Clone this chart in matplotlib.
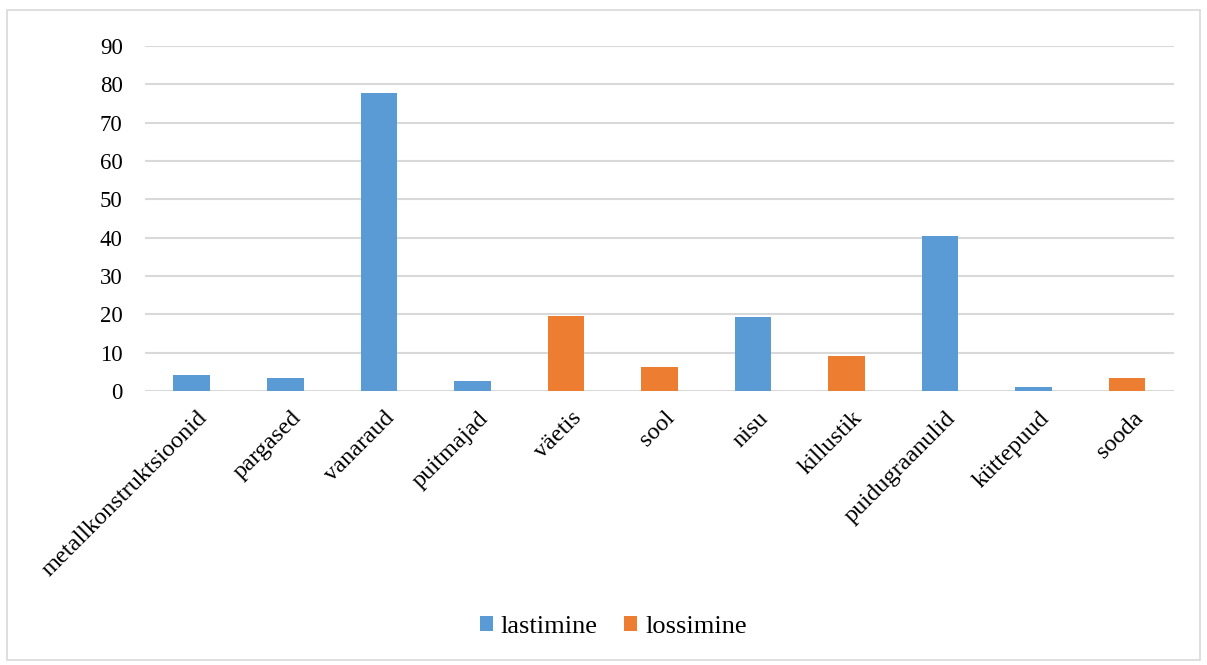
import matplotlib
matplotlib.use("Agg")
from matplotlib import pyplot as plt
from matplotlib.patches import Rectangle
from matplotlib.transforms import ScaledTranslation
import numpy as np

categories = ["metallkonstruktsioonid", "pargased", "vanaraud", "puitmajad",
              "väetis", "sool", "nisu", "killustik", "puidugraanulid",
              "küttepuud", "sooda"]
lastimine = [4.2, 3.3, 77.6, 2.5, 0, 0, 19.4, 0, 40.5, 1.0, 0]
lossimine = [0, 0, 0, 0, 19.5, 6.3, 0, 9.2, 0, 0, 3.4]
yticks = list(range(0, 91, 10))

blue = "#5B9BD5"
orange = "#ED7D31"
grid_color = "#D9D9D9"

plt.rcParams["font.family"] = ["Liberation Serif", "DejaVu Serif"]

fig = plt.figure(figsize=(12.07, 6.65), dpi=100)
ax = fig.add_axes([0.1201, 0.412, 0.8525, 0.519])

x = np.arange(len(categories))
ax.bar(x, lastimine, width=0.39, color=blue, linewidth=0, label="lastimine", zorder=3)
ax.bar(x, lossimine, width=0.39, color=orange, linewidth=0, label="lossimine", zorder=3)

ax.set_xlim(-0.5, len(categories) - 0.5)
ax.set_ylim(0, 90)
ax.set_yticks(yticks)
ax.yaxis.grid(True, color=grid_color, linewidth=1.5, zorder=0)
ax.set_axisbelow(True)
for s in ["top", "right", "left", "bottom"]:
    ax.spines[s].set_visible(False)
ax.tick_params(axis="y", length=0, labelsize=16.5, pad=16)
ax.tick_params(axis="x", length=0, labelsize=17.5, pad=12)
ax.set_xticks(x)
ax.set_xticklabels(categories, rotation=45, ha="right", va="top", rotation_mode="anchor")
shift = ScaledTranslation(5 / 100, 0, fig.dpi_scale_trans)
for lbl in ax.get_xticklabels():
    lbl.set_transform(lbl.get_transform() + shift)

fig.legend(loc="center", bbox_to_anchor=(0.508, 0.057), ncol=2, frameon=False,
           fontsize=19, handlelength=0.5, handleheight=0.5, handletextpad=0.3,
           columnspacing=1.0)

fig.patches.append(Rectangle((0.006, 0.008), 0.988, 0.977, transform=fig.transFigure,
                             fill=False, edgecolor=grid_color, linewidth=1.2))

fig.savefig("out.png", dpi=100)
